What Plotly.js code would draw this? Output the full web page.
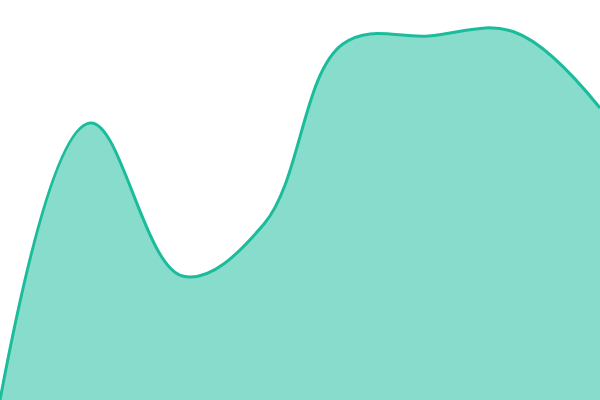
<!DOCTYPE html>
<html>
<head>
<meta charset="utf-8">
<script src="https://cdn.plot.ly/plotly-3.0.1.min.js"></script>
<style>
  html, body { margin: 0; padding: 0; background: #fff; }
  #plot { width: 600px; height: 400px; }
</style>
</head>
<body>
<div id="plot"></div>
<script>
// sample positions and heights
const xValues = [0, 1.05, 2.13, 3.08, 4, 5, 6, 7];
const yValues = [0, 277, 124, 176, 356, 364, 368, 292];

const trace = {
    x: xValues,
    y: yValues,
    type: "scatter",
    mode: "lines",
    fill: "tozeroy",
    fillcolor: "rgba(26,188,156,0.52)",
    line: { color: "#1abc9c", width: 3, shape: "spline", smoothing: 1.1 },
    hoverinfo: "none"
};

const layout = {
    width: 600,
    height: 400,
    margin: { l: 0, r: 0, t: 0, b: 0 },
    xaxis: { range: [0, 7], visible: false, fixedrange: true },
    yaxis: { range: [0, 400], visible: false, fixedrange: true },
    showlegend: false,
    plot_bgcolor: "#fff",
    paper_bgcolor: "#fff"
};

Plotly.newPlot("plot", [trace], layout, { displayModeBar: false, staticPlot: true });
</script>
</body>
</html>
